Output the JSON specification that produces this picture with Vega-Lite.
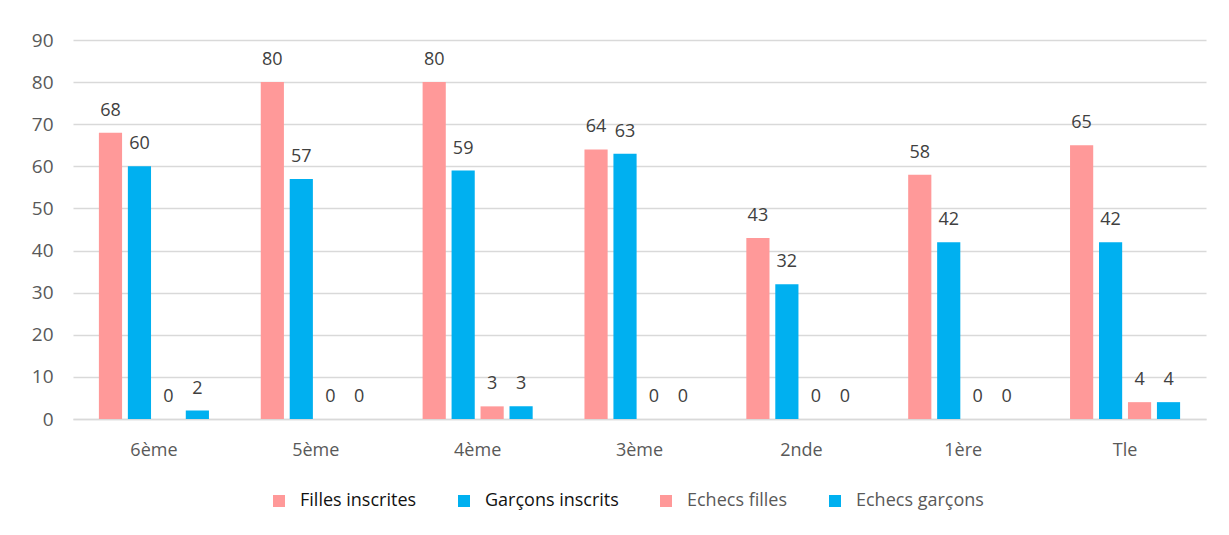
{
  "$schema": "https://vega.github.io/schema/vega-lite/v6.json",
  "autosize": {"type": "none"},
  "padding": {"left": 73, "top": 40, "right": 23, "bottom": 116},
  "width": 1133,
  "height": 379,
  "background": "white",
  "config": {
    "font": "Open Sans",
    "view": {"stroke": null}
  },
  "data": {
    "values": [
      {"niveau": "6ème", "serie": "Filles inscrites", "valeur": 68},
      {"niveau": "6ème", "serie": "Garçons inscrits", "valeur": 60},
      {"niveau": "6ème", "serie": "Echecs filles", "valeur": 0},
      {"niveau": "6ème", "serie": "Echecs garçons", "valeur": 2},
      {"niveau": "5ème", "serie": "Filles inscrites", "valeur": 80},
      {"niveau": "5ème", "serie": "Garçons inscrits", "valeur": 57},
      {"niveau": "5ème", "serie": "Echecs filles", "valeur": 0},
      {"niveau": "5ème", "serie": "Echecs garçons", "valeur": 0},
      {"niveau": "4ème", "serie": "Filles inscrites", "valeur": 80},
      {"niveau": "4ème", "serie": "Garçons inscrits", "valeur": 59},
      {"niveau": "4ème", "serie": "Echecs filles", "valeur": 3},
      {"niveau": "4ème", "serie": "Echecs garçons", "valeur": 3},
      {"niveau": "3ème", "serie": "Filles inscrites", "valeur": 64},
      {"niveau": "3ème", "serie": "Garçons inscrits", "valeur": 63},
      {"niveau": "3ème", "serie": "Echecs filles", "valeur": 0},
      {"niveau": "3ème", "serie": "Echecs garçons", "valeur": 0},
      {"niveau": "2nde", "serie": "Filles inscrites", "valeur": 43},
      {"niveau": "2nde", "serie": "Garçons inscrits", "valeur": 32},
      {"niveau": "2nde", "serie": "Echecs filles", "valeur": 0},
      {"niveau": "2nde", "serie": "Echecs garçons", "valeur": 0},
      {"niveau": "1ère", "serie": "Filles inscrites", "valeur": 58},
      {"niveau": "1ère", "serie": "Garçons inscrits", "valeur": 42},
      {"niveau": "1ère", "serie": "Echecs filles", "valeur": 0},
      {"niveau": "1ère", "serie": "Echecs garçons", "valeur": 0},
      {"niveau": "Tle", "serie": "Filles inscrites", "valeur": 65},
      {"niveau": "Tle", "serie": "Garçons inscrits", "valeur": 42},
      {"niveau": "Tle", "serie": "Echecs filles", "valeur": 4},
      {"niveau": "Tle", "serie": "Echecs garçons", "valeur": 4}
    ]
  },
  "encoding": {
    "x": {
      "field": "niveau", "type": "nominal", "sort": null,
      "scale": {"paddingInner": 0.32, "paddingOuter": 0.16},
      "axis": {"title": null, "labelAngle": 0, "ticks": false, "domainColor": "#D9D9D9", "domainWidth": 1.5,
               "labelFontSize": 18, "labelColor": "#595959", "labelPadding": 22}
    },
    "xOffset": {
      "field": "serie", "type": "nominal",
      "sort": ["Filles inscrites", "Garçons inscrits", "Echecs filles", "Echecs garçons"],
      "scale": {"paddingInner": 0.2, "paddingOuter": 0}
    },
    "y": {
      "field": "valeur", "type": "quantitative",
      "scale": {"domain": [0, 90], "nice": false},
      "axis": {"title": null, "values": [0,10,20,30,40,50,60,70,80,90], "labelOverlap": false, "domain": false, "ticks": false,
               "gridColor": "#D9D9D9", "gridWidth": 1.5, "labelFontSize": 19, "labelColor": "#595959", "labelPadding": 20}
    }
  },
  "layer": [
    {
      "mark": {"type": "bar"},
      "encoding": {
        "color": {
          "field": "serie", "type": "nominal",
          "sort": ["Filles inscrites", "Garçons inscrits", "Echecs filles", "Echecs garçons"],
          "scale": {"domain": ["Filles inscrites", "Garçons inscrits", "Echecs filles", "Echecs garçons"],
                    "range": ["#FF9999", "#00B0F0", "#FF9999", "#00B0F0"]},
          "legend": {"title": null, "orient": "none", "legendX": 197, "legendY": 452, "direction": "horizontal",
                     "symbolType": "square", "symbolSize": 144, "labelFontSize": 18, "labelColor": "#111111",
                     "columnPadding": 38, "labelOffset": 12, "symbolOpacity": 1,
                     "labelExpr": "datum.label",
                     "encode": {"labels": {"update": {"fill": {"signal": "indexof(['Echecs filles', 'Echecs garçons'], datum.value) >= 0 ? '#595959' : '#111111'"}}}}}
        }
      }
    },
    {
      "mark": {"type": "text", "baseline": "bottom", "dy": -13, "fontSize": 18, "color": "#404040"},
      "encoding": {"text": {"field": "valeur", "type": "quantitative"}}
    }
  ]
}
